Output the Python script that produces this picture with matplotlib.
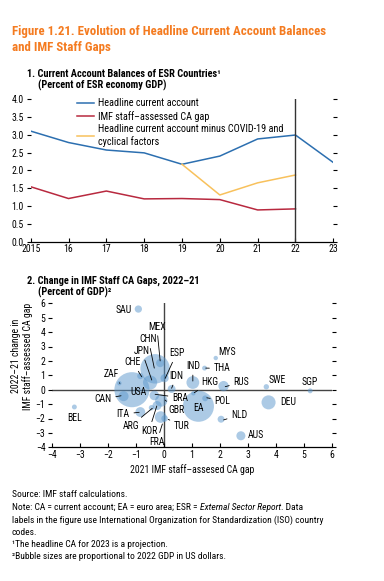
import matplotlib
matplotlib.use('Agg')
import matplotlib.pyplot as plt
from matplotlib import font_manager

# pick a narrow face if one is installed
fonts = font_manager.fontManager.ttflist
names = {f.name for f in fonts}
stretch = 'normal'
if 'Liberation Sans Narrow' in names:
    face = 'Liberation Sans Narrow'
elif 'Roboto Condensed' in names:
    face = 'Roboto Condensed'
elif any(f.name == 'DejaVu Sans' and 'Condensed' in f.fname for f in fonts):
    face, stretch = 'DejaVu Sans', 'condensed'
elif any(f.name == 'Noto Sans' and f.stretch == 'condensed' for f in fonts):
    face, stretch = 'Noto Sans', 'condensed'
else:
    face = 'Liberation Sans'
plt.rcParams['font.family'] = [face, 'DejaVu Sans']
plt.rcParams['font.stretch'] = stretch
narrow = face != 'Liberation Sans'
fs = 7 if narrow else 6.3

# panel 1 data
years = [2015, 2016, 2017, 2018, 2019, 2020, 2021, 2022, 2023]
headline = [3.10, 2.78, 2.57, 2.49, 2.17, 2.40, 2.88, 2.99, 2.22]
gap_years = [2015, 2016, 2017, 2018, 2019, 2020, 2021, 2022]
ca_gap = [1.54, 1.21, 1.42, 1.20, 1.21, 1.18, 0.89, 0.92]
adj_years = [2019, 2020, 2021, 2022]
adjusted = [2.17, 1.31, 1.65, 1.87]
year_labels = ['2015', '16', '17', '18', '19', '20', '21', '22', '23']

# panel 2 data
countries = ['USA', 'CHN', 'EA', 'JPN', 'DEU', 'IND', 'GBR', 'FRA', 'CAN', 'ITA',
             'RUS', 'BRA', 'KOR', 'AUS', 'MEX', 'ESP', 'IDN', 'SAU', 'NLD', 'TUR',
             'CHE', 'POL', 'ARG', 'SWE', 'BEL', 'THA', 'SGP', 'HKG', 'MYS', 'ZAF']
gap_2021 = [-1.15, -0.32, 1.23, -0.50, 3.74, 1.03, -0.10, -0.12, -1.45, -0.85,
            2.13, -0.35, -0.25, 2.75, -0.14, 0.02, 0.27, -0.92, 2.04, 0.02,
            -0.85, 1.47, -0.45, 3.66, -3.21, 1.45, 5.23, 1.05, 1.85, -1.60]
gap_change = [0.00, 1.45, -1.15, 0.50, -0.88, 0.50, -0.75, -1.90, -0.45, -1.55,
              0.25, -0.40, -1.10, -3.20, 1.85, 0.80, 0.05, 5.60, -2.05, -2.00,
              0.95, -0.60, -1.25, 0.20, -1.20, 1.50, -0.08, -0.25, 2.20, 0.45]
gdp = [25.5, 18.0, 20.0, 4.2, 4.1, 3.4, 3.1, 2.8, 2.1, 2.0,
       2.2, 1.9, 1.7, 1.7, 1.4, 1.4, 1.3, 1.1, 1.0, 0.9,
       0.8, 0.7, 0.6, 0.6, 0.5, 0.5, 0.5, 0.4, 0.4, 0.4]

# label text position, alignment, leader end
labels = {
    'SAU': (-1.46, 5.53, 'center', None),
    'MEX': (-0.26, 4.38, 'center', (-0.14, 2.0)),
    'CHN': (-0.56, 3.50, 'center', (-0.35, 1.5)),
    'JPN': (-0.80, 2.69, 'center', (-0.44, 0.67)),
    'CHE': (-1.12, 1.90, 'center', (-0.80, 0.9)),
    'ZAF': (-1.90, 1.09, 'center', (-1.58, 0.44)),
    'ESP': (0.45, 2.53, 'center', (0.04, 0.79)),
    'IDN': (0.45, 0.95, 'center', (0.27, 0.1)),
    'IND': (1.03, 1.65, 'center', (1.03, 0.6)),
    'THA': (1.77, 1.48, 'left', (1.49, 1.5)),
    'MYS': (2.25, 2.64, 'center', None),
    'HKG': (1.65, 0.51, 'center', (1.08, -0.21)),
    'RUS': (2.48, 0.51, 'left', (2.19, 0.21)),
    'SWE': (4.06, 0.67, 'center', None),
    'SGP': (5.23, 0.51, 'center', None),
    'DEU': (4.16, -0.88, 'left', None),
    'POL': (1.80, -0.76, 'left', (1.53, -0.56)),
    'NLD': (2.40, -1.76, 'left', (2.13, -2.1)),
    'AUS': (2.98, -3.15, 'left', None),
    'EA': (1.25, -1.29, 'center', None),
    'BEL': (-3.19, -1.99, 'center', None),
    'CAN': (-2.18, -0.65, 'center', (-1.54, -0.42)),
    'USA': (-0.92, -0.14, 'center', None),
    'BRA': (0.57, -0.55, 'center', (-0.32, -0.32)),
    'GBR': (0.43, -1.41, 'center', (0.04, -0.72)),
    'TUR': (0.63, -2.52, 'center', (0.15, -2.06)),
    'FRA': (-0.26, -3.61, 'center', (-0.06, -2.38)),
    'KOR': (-0.54, -2.85, 'center', (-0.26, -1.13)),
    'ARG': (-1.19, -2.52, 'center', (-0.42, -1.29)),
    'ITA': (-1.46, -1.69, 'center', (-0.89, -1.57)),
}

W, H = 384, 581
fig = plt.figure(figsize=(W / 100, H / 100), dpi=100)
r = fig.canvas.get_renderer()


def fit(txt, width_px):
    # shrink a text until it is no wider than in the reference
    while txt.get_window_extent(r).width > width_px:
        txt.set_fontsize(txt.get_fontsize() - 0.1)
    return txt


orange = '#f47b20'
t_a = fig.text(12 / W, 1 - 35 / H, 'Figure 1.21. Evolution of Headline Current Account Balances',
               color=orange, fontsize=9.5, fontweight='bold', va='baseline')
fit(t_a, 316)
fig.text(12 / W, 1 - 51 / H, 'and IMF Staff Gaps',
         color=orange, fontsize=t_a.get_fontsize(), fontweight='bold', va='baseline')

p1 = fig.text(27 / W, 1 - 77 / H, '1. Current Account Balances of ESR Countries\u00b9',
              fontsize=7.5, fontweight='bold', va='baseline')
fit(p1, 197)
fig.text(38 / W, 1 - 89 / H, '(Percent of ESR economy GDP)',
         fontsize=p1.get_fontsize(), fontweight='bold', va='baseline')

# ---- panel 1
ax1 = fig.add_axes([30.7 / W, 1 - 241.7 / H, 302.6 / W, 142.7 / H])
ax1.plot(years, headline, color='#2c6fb0', lw=1.1, label='Headline current account')
ax1.plot(gap_years, ca_gap, color='#b8293f', lw=1.1, label='IMF staff\u2013assessed CA gap')
ax1.plot(adj_years, adjusted, color='#f8c15c', lw=1.1,
         label='Headline current account minus COVID-19 and\ncyclical factors')
ax1.axvline(2022, color='#333333', lw=1)
ax1.set_xlim(2015, 2023)
ax1.set_ylim(0, 4)
ax1.set_yticks([0, 0.5, 1, 1.5, 2, 2.5, 3, 3.5, 4])
ax1.set_yticklabels(['%.1f' % v for v in ax1.get_yticks()])
ax1.set_xticks(years)
ax1.set_xticklabels(year_labels)
for s in ['top', 'left', 'right']:
    ax1.spines[s].set_visible(False)
ax1.spines['bottom'].set_linewidth(0.9)
ax1.tick_params(axis='y', left=True, right=True, direction='out', length=3, width=0.8, pad=2,
                labelsize=fs)
ax1.tick_params(axis='x', direction='in', length=3, width=0.8, pad=2, labelsize=fs)
ax1.legend(loc='upper left', bbox_to_anchor=(0.14, 1.035), frameon=False, fontsize=fs + 0.3,
           handlelength=1.7, handletextpad=0.4, labelspacing=0.25, borderaxespad=0)

# ---- panel 2
p2 = fig.text(27 / W, 1 - 284 / H, '2. Change in IMF Staff CA Gaps, 2022\u201321',
              fontsize=p1.get_fontsize(), fontweight='bold', va='baseline')
fig.text(38 / W, 1 - 296 / H, '(Percent of GDP)\u00b2',
         fontsize=p1.get_fontsize(), fontweight='bold', va='baseline')

ax2 = fig.add_axes([52.3 / W, 1 - 447.3 / H, 279.4 / W, 144 / H])
ax2.scatter(gap_2021, gap_change, s=[g * 25 for g in gdp], color='#5b97cc', alpha=0.5,
            edgecolors='none', zorder=2)
ax2.axhline(0, color='#444444', lw=1, zorder=1)
ax2.axvline(0, color='#444444', lw=1, zorder=1)
for c in countries:
    tx, ty, ha, end = labels[c]
    if end is None:
        ax2.text(tx, ty, c, ha=ha, va='center', fontsize=fs, zorder=4)
    else:
        ax2.annotate(c, xy=end, xytext=(tx, ty), ha=ha, va='center', fontsize=fs, zorder=4,
                     arrowprops=dict(arrowstyle='-', color='black', lw=0.6,
                                     shrinkA=1, shrinkB=0))
ax2.set_xlim(-4, 6)
ax2.set_ylim(-4, 6)
ax2.set_xticks(range(-4, 7))
ax2.set_yticks(range(-4, 7))
for s in ['top', 'left', 'right']:
    ax2.spines[s].set_visible(False)
ax2.spines['bottom'].set_linewidth(0.9)
ax2.tick_params(axis='y', left=True, right=True, direction='out', length=3, width=0.8, pad=2,
                labelsize=fs)
ax2.tick_params(axis='x', direction='in', length=3, width=0.8, pad=2, labelsize=fs)
ax2.set_xlabel('2021 IMF staff\u2013assesed CA gap', fontsize=fs, labelpad=3)
fig.text(22 / W, 1 - 356 / H, '2022\u201321 change in\nIMF staff\u2013assessed CA gap',
         rotation=90, ha='center', va='center', fontsize=fs, multialignment='center',
         linespacing=1.1)

# ---- notes
fy = [497, 510, 523, 535, 547, 559]
nf = 7.2
lab = fig.text(12 / W, 1 - fy[2] / H,
               'labels in the figure use International Organization for Standardization (ISO) country',
               fontsize=nf, va='baseline')
fit(lab, 314)
nf = lab.get_fontsize()
fig.text(12 / W, 1 - fy[0] / H, 'Source: IMF staff calculations.', fontsize=nf, va='baseline')
t = fig.text(12 / W, 1 - fy[1] / H, 'Note: CA = current account; EA = euro area; ESR = ',
             fontsize=nf, va='baseline')
t2 = fig.text(0, 0, 'External Sector Report', fontsize=nf, style='italic', va='baseline')
t3 = fig.text(0, 0, '. Data', fontsize=nf, va='baseline')
fig.text(12 / W, 1 - fy[3] / H, 'codes.', fontsize=nf, va='baseline')
fig.text(12 / W, 1 - fy[4] / H, '\u00b9The headline CA for 2023 is a projection.',
         fontsize=nf, va='baseline')
fig.text(12 / W, 1 - fy[5] / H, '\u00b2Bubble sizes are proportional to 2022 GDP in US dollars.',
         fontsize=nf, va='baseline')

fig.canvas.draw()
bb = t.get_window_extent(r)
t2.set_position((bb.x1 / W, 1 - fy[1] / H))
fig.canvas.draw()
bb2 = t2.get_window_extent(r)
t3.set_position((bb2.x1 / W, 1 - fy[1] / H))

fig.savefig('out.png', dpi=100)
